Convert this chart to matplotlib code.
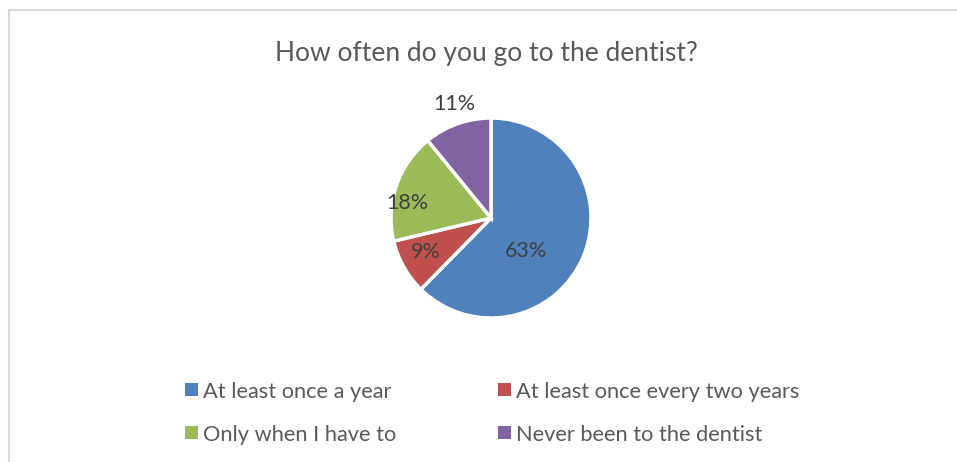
import matplotlib
matplotlib.use("Agg")
import matplotlib.pyplot as plt
from matplotlib.patches import Rectangle

W, H = 957, 462

title = "How often do you go to the dentist?"
categories = ["At least once a year", "At least once every two years",
              "Only when I have to", "Never been to the dentist"]
shares = [63, 9, 18, 11]
colors = ["#4F81BD", "#C0504D", "#9BBB59", "#8064A2"]

# label offsets from the pie centre, in units of the radius
label_xy = [(0.35, -0.33), (-0.65, -0.34), (-0.84, 0.15), (-0.37, 1.14)]

plt.rcParams["font.family"] = ["Lato", "DejaVu Sans"]
text_color = "#595959"

fig = plt.figure(figsize=(W / 100, H / 100), dpi=100)
fig.patch.set_facecolor("white")

def px(x, y):
    return x / W, 1 - y / H

# chart frame (runs off the right and bottom edges)
x0, y0 = px(9, 10)
fig.patches.append(Rectangle((x0, -0.1), 1.2, y0 + 0.1, transform=fig.transFigure,
                             fill=False, edgecolor="#D9D9D9", linewidth=1.5))

# pie axes: centre (491, 218), radius 100 px
cx, cy, r = 491, 218, 100
ax = fig.add_axes([(cx - r) / W, 1 - (cy + r) / H, 2 * r / W, 2 * r / H])
wedges, _ = ax.pie(shares, colors=colors, startangle=90, counterclock=False,
                   radius=1.0, wedgeprops=dict(edgecolor="white", linewidth=2.5))
ax.set_xlim(-1, 1)
ax.set_ylim(-1, 1)
ax.set_aspect("auto")
ax.axis("off")

for v, (lx, ly) in zip(shares, label_xy):
    ax.text(lx, ly, f"{v}%", ha="center", va="center", fontsize=15.5,
            color="#404040", clip_on=False)

fig.text(*px(486, 61), title, ha="center", va="baseline", fontsize=19,
         color=text_color)

# legend, two columns
col_x = [185, 498]
baselines = [398, 441]
for i, (name, c) in enumerate(zip(categories, colors)):
    lx = col_x[i % 2]
    base = baselines[i // 2]
    bx, by = px(lx, base - 2)
    fig.patches.append(Rectangle((bx, by), 13 / W, 13 / H, transform=fig.transFigure,
                                 facecolor=c, edgecolor="none"))
    fig.text(*px(lx + 18, base), name, ha="left", va="baseline", fontsize=15.7,
             color=text_color)

fig.savefig("out.png", dpi=100, facecolor="white")
